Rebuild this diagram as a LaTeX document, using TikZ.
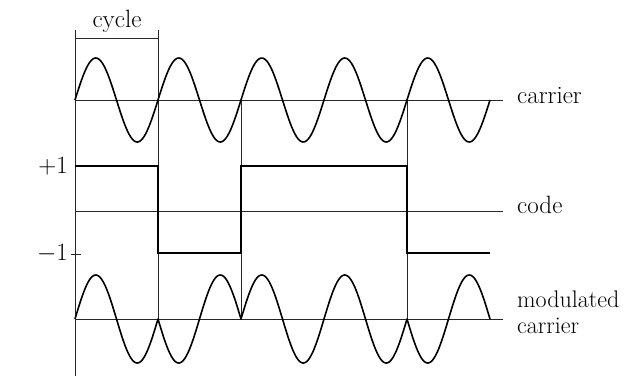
\documentclass[tikz,border=0pt]{standalone}
\begin{document}
\begin{tikzpicture}[x=1pt,y=-1pt,
  axis/.style={line width=0.7pt,black!85},
  wave/.style={line width=1.6pt,line join=round},
  codeline/.style={line width=1.3pt,line join=miter},
  lbl/.style={inner sep=0pt,font=\fontsize{25}{20}\selectfont},
  slbl/.style={inner sep=0pt,font=\fontsize{24}{20}\selectfont}]
\pgfmathsetmacro{\kk}{360/83}
\useasboundingbox (0,0) rectangle (624,376);
% left axis and cycle bracket
\draw[axis] (75,30) -- (75,376);
\draw[axis] (158,30) -- (158,319);
\draw[axis] (75,38) -- (158,38);
\node[lbl,anchor=base] (cyc) at (117,27) {cycle};
% horizontal axes
\draw[axis] (75,100) -- (503,100);
\draw[axis] (75,211) -- (503,211);
\draw[axis] (75,319) -- (503,319);
% transition lines
\draw[axis] (241,100) -- (241,319);
\draw[axis] (407,100) -- (407,319);
% carrier
\draw[wave] plot[domain=75:490,samples=300,smooth] (\x,{100-42*sin(\kk*(\x-75))});
% code
\draw[codeline] (75,166) -- (158,166) -- (158,253) -- (241,253) -- (241,166) -- (407,166) -- (407,253) -- (490,253);
\draw[axis] (71,254) -- (81,254);
\node[lbl,anchor=east] (p1) at (68,166) {$+1$};
\node[lbl,anchor=east] (m1) at (68,254) {$-1$};
% modulated carrier
\draw[wave] plot[domain=75:158,samples=80,smooth] (\x,{319-44*sin(\kk*(\x-75))})
  -- plot[domain=158:241,samples=80,smooth] (\x,{319+44*sin(\kk*(\x-75))})
  -- plot[domain=241:407,samples=160,smooth] (\x,{319-44*sin(\kk*(\x-75))})
  -- plot[domain=407:490,samples=80,smooth] (\x,{319+44*sin(\kk*(\x-75))});
% labels
\node[lbl,anchor=base west] (lc) at (517,103) {carrier};
\node[lbl,anchor=base west] (lk) at (517,213) {code};
\node[slbl,anchor=base west] (lm) at (517,307) {modulated};
\node[slbl,anchor=base west] (lm2) at (517,333) {carrier};
\end{tikzpicture}
\end{document}
